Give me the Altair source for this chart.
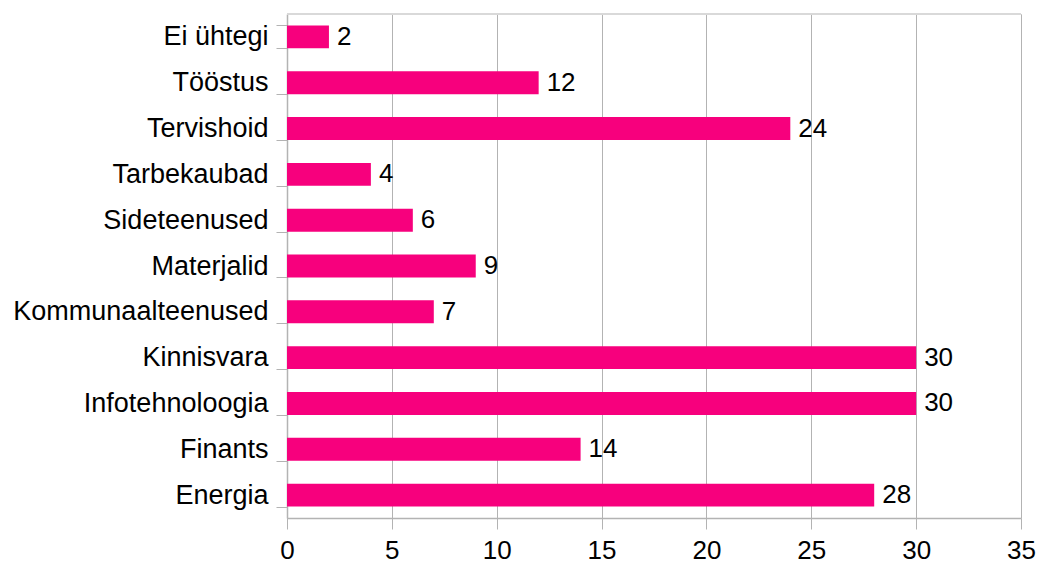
import altair as alt
import pandas as pd

categories = ["Ei ühtegi", "Tööstus", "Tervishoid", "Tarbekaubad", "Sideteenused",
              "Materjalid", "Kommunaalteenused", "Kinnisvara", "Infotehnoloogia",
              "Finants", "Energia"]
values = [2, 12, 24, 4, 6, 9, 7, 30, 30, 14, 28]

df = pd.DataFrame({"cat": categories, "val": values})

FONT = "Liberation Sans"
GRID = "#b3b3b3"
PINK = "#f7007d"

y_enc = alt.Y("cat:N", sort=categories, title=None,
              scale=alt.Scale(paddingInner=0.5, paddingOuter=0.25),
              axis=alt.Axis(tickBand="extent", domainColor=GRID, tickColor=GRID,
                            tickSize=11, labelPadding=8, labelFontSize=27,
                            labelLimit=400,
                            labelFont=FONT, labelColor="#000000", domainWidth=1.5))
x_enc = alt.X("val:Q", title=None,
              scale=alt.Scale(domain=[0, 35], nice=False),
              axis=alt.Axis(values=[0, 5, 10, 15, 20, 25, 30, 35], grid=True,
                            gridColor=GRID, domainColor=GRID, tickColor=GRID,
                            tickSize=11, labelPadding=8, labelFontSize=26,
                            labelFlush=False,
                            labelFont=FONT, labelColor="#000000", domain=True,
                            domainWidth=1.5))

bars = alt.Chart(df).mark_bar(color=PINK).encode(y=y_enc, x=x_enc)
texts = alt.Chart(df).mark_text(align="left", baseline="middle", dx=8,
                                font=FONT, fontSize=26, color="#000000").encode(
    y=alt.Y("cat:N", sort=categories), x="val:Q", text="val:Q")
top = alt.Chart(df).mark_rule(color="#d9d9d9", strokeWidth=1.5).encode(
    x=alt.value(0), x2=alt.value(734), y=alt.value(0))

chart = alt.layer(top, bars, texts).properties(
    width=734, height=504,
    autosize=alt.AutoSizeParams(type="none"),
    padding={"left": 287, "top": 14, "right": 17, "bottom": 46},
).configure_view(stroke=None).configure(background="#ffffff")

chart.save("out.html", embed_options={"renderer": "svg", "actions": False})
